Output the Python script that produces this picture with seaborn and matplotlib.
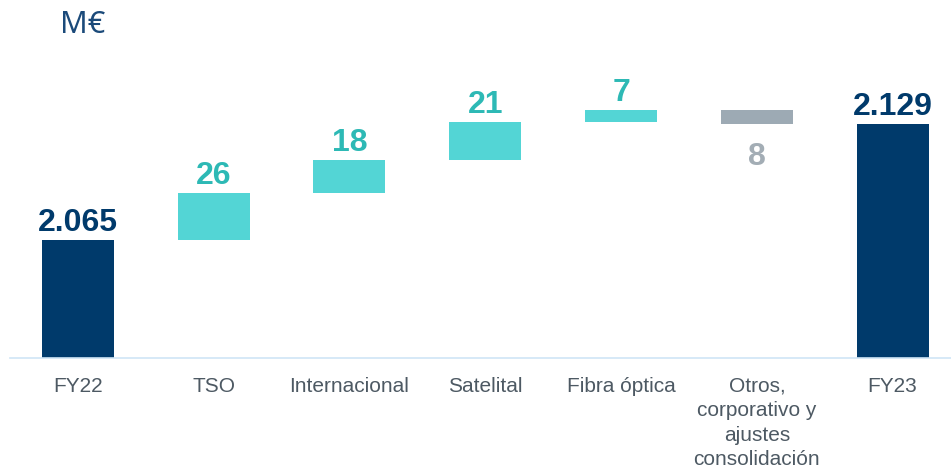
import matplotlib
matplotlib.use("Agg")
import matplotlib.pyplot as plt
import seaborn as sns
import pandas as pd

# ---- data ----
categories = ["FY22", "TSO", "Internacional", "Satelital", "Fibra óptica",
              "Otros,\ncorporativo y\najustes\nconsolidación", "FY23"]
start_value = 2065
deltas = [26, 18, 21, 7, -8]
end_value = 2129
value_labels = ["2.065", "26", "18", "21", "7", "8", "2.129"]

# ---- derive waterfall geometry from data ----
bottoms, tops = [0], [start_value]
level = start_value
for d in deltas:
    new = level + d
    bottoms.append(min(level, new))
    tops.append(max(level, new))
    level = new
bottoms.append(0)
tops.append(end_value)

NAVY = "#003A6B"
TEAL = "#53D5D5"
TEAL_TXT = "#2DB9B5"
GREY = "#9DAAB4"
GREY_TXT = "#A3ADB5"
bar_colors = [NAVY] + [TEAL if d > 0 else GREY for d in deltas] + [NAVY]
text_colors = [NAVY] + [TEAL_TXT if d > 0 else GREY_TXT for d in deltas] + [NAVY]

df = pd.DataFrame({"cat": categories, "top": tops})

sns.set_theme(style="white")
plt.rcParams["font.family"] = ["Liberation Sans", "DejaVu Sans"]

fig = plt.figure(figsize=(9.51, 4.68), dpi=100)
ax = fig.add_axes([10 / 951, 110 / 468, 941 / 951, 278 / 468])

sns.barplot(data=df, x="cat", y="top", hue="cat", palette=bar_colors,
            order=categories, hue_order=categories, legend=False,
            width=0.53, ax=ax, saturation=1)

for p, b, t in zip(ax.patches, bottoms, tops):
    p.set_y(b)
    p.set_height(t - b)
    p.set_edgecolor("none")

ax.set_ylim(2000, 2153.4)
ax.set_xlim(-0.5, 6.43)

for i, (lab, b, t, c) in enumerate(zip(value_labels, bottoms, tops, text_colors)):
    is_neg = 0 < i < len(categories) - 1 and deltas[i - 1] < 0
    if is_neg:
        ax.annotate(lab, (i, b), xytext=(0, -29.5), textcoords="offset points",
                    ha="center", va="baseline", fontsize=23, fontweight="bold",
                    color=c)
    else:
        ax.annotate(lab, (i, t), xytext=(0, 6.5), textcoords="offset points",
                    ha="center", va="baseline", fontsize=23, fontweight="bold",
                    color=c)

ax.set_xlabel("")
ax.set_ylabel("")
ax.set_yticks([])
ax.tick_params(axis="x", length=0, pad=13.5, labelsize=15, labelcolor="#4D5963")
for lbl in ax.get_xticklabels():
    lbl.set_linespacing(1.36)
for s in ["top", "left", "right"]:
    ax.spines[s].set_visible(False)
ax.spines["bottom"].set_color("#CFE5F6")
ax.spines["bottom"].set_linewidth(1.2)

fig.text(60 / 951, 1 - 25 / 468, "M€", fontsize=22, color="#1B4A7A",
         family=["Noto Sans", "DejaVu Sans"], ha="left", va="center")

fig.savefig("out.png", dpi=100)
